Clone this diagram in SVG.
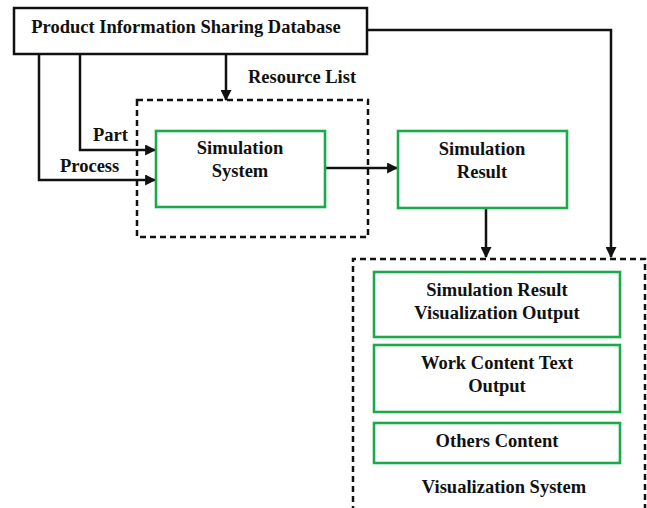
<svg xmlns="http://www.w3.org/2000/svg" width="647" height="508" viewBox="0 0 647 508">
  <style>
    .t { font-family: 'Liberation Serif', 'DejaVu Serif', serif; font-weight: 700; font-size: 18.5px; fill: #111; }
    .mid { text-anchor: middle; }
    .box { fill: #fff; stroke: #111; stroke-width: 2.5; }
    .green { fill: #fff; stroke: #1aaa4a; stroke-width: 2.6; }
    .dash { fill: none; stroke: #111; stroke-width: 2.5; stroke-dasharray: 6 4; }
    .wire { fill: none; stroke: #111; stroke-width: 2.5; marker-end: url(#arrow); }
  </style>
  <defs>
    <marker id="arrow" viewBox="0 0 10 10" refX="9" refY="5" markerWidth="4.4" markerHeight="4.4" orient="auto" markerUnits="strokeWidth">
      <path d="M0,0 L10,5 L0,10 z" fill="#111"/>
    </marker>
  </defs>
  <rect width="647" height="508" fill="#fff"/>

  <!-- dashed group frames -->
  <g id="simulation-frame">
    <rect class="dash" x="137" y="100" width="231" height="137"/>
  </g>
  <g id="visualization-frame">
    <path class="dash" d="M353,512 V259 H645 V512"/>
    <text class="t mid" x="504" y="493">Visualization System</text>
  </g>

  <g id="connectors">
    <path class="wire" d="M226,54 V100"/>
    <path class="wire" d="M80,54 V150 H155"/>
    <path class="wire" d="M39,54 V180 H155"/>
    <path class="wire" d="M367,30 H611 V257"/>
    <path class="wire" d="M325,168 H397"/>
    <path class="wire" d="M486,208 V257"/>
    <text class="t" x="248" y="83">Resource List</text>
    <text class="t" x="93" y="141">Part</text>
    <text class="t" x="60" y="172">Process</text>
  </g>

  <g id="database">
    <rect class="box" x="14" y="8" width="353" height="46"/>
    <text class="t mid" x="186" y="33">Product Information Sharing Database</text>
  </g>

  <g id="simulation-system">
    <rect class="green" x="156" y="131" width="169" height="76"/>
    <text class="t mid" x="240" y="154">Simulation</text>
    <text class="t mid" x="240" y="177">System</text>
  </g>

  <g id="simulation-result">
    <rect class="green" x="398" y="131" width="169" height="77"/>
    <text class="t mid" x="482" y="155">Simulation</text>
    <text class="t mid" x="482" y="178">Result</text>
  </g>

  <g id="result-visualization-output">
    <rect class="green" x="374" y="272" width="246" height="65"/>
    <text class="t mid" x="497" y="296">Simulation Result</text>
    <text class="t mid" x="497" y="319">Visualization Output</text>
  </g>

  <g id="work-content-text-output">
    <rect class="green" x="374" y="345" width="246" height="67"/>
    <text class="t mid" x="497" y="369">Work Content Text</text>
    <text class="t mid" x="497" y="392">Output</text>
  </g>

  <g id="others-content">
    <rect class="green" x="374" y="423" width="246" height="40"/>
    <text class="t mid" x="497" y="447">Others Content</text>
  </g>
</svg>
